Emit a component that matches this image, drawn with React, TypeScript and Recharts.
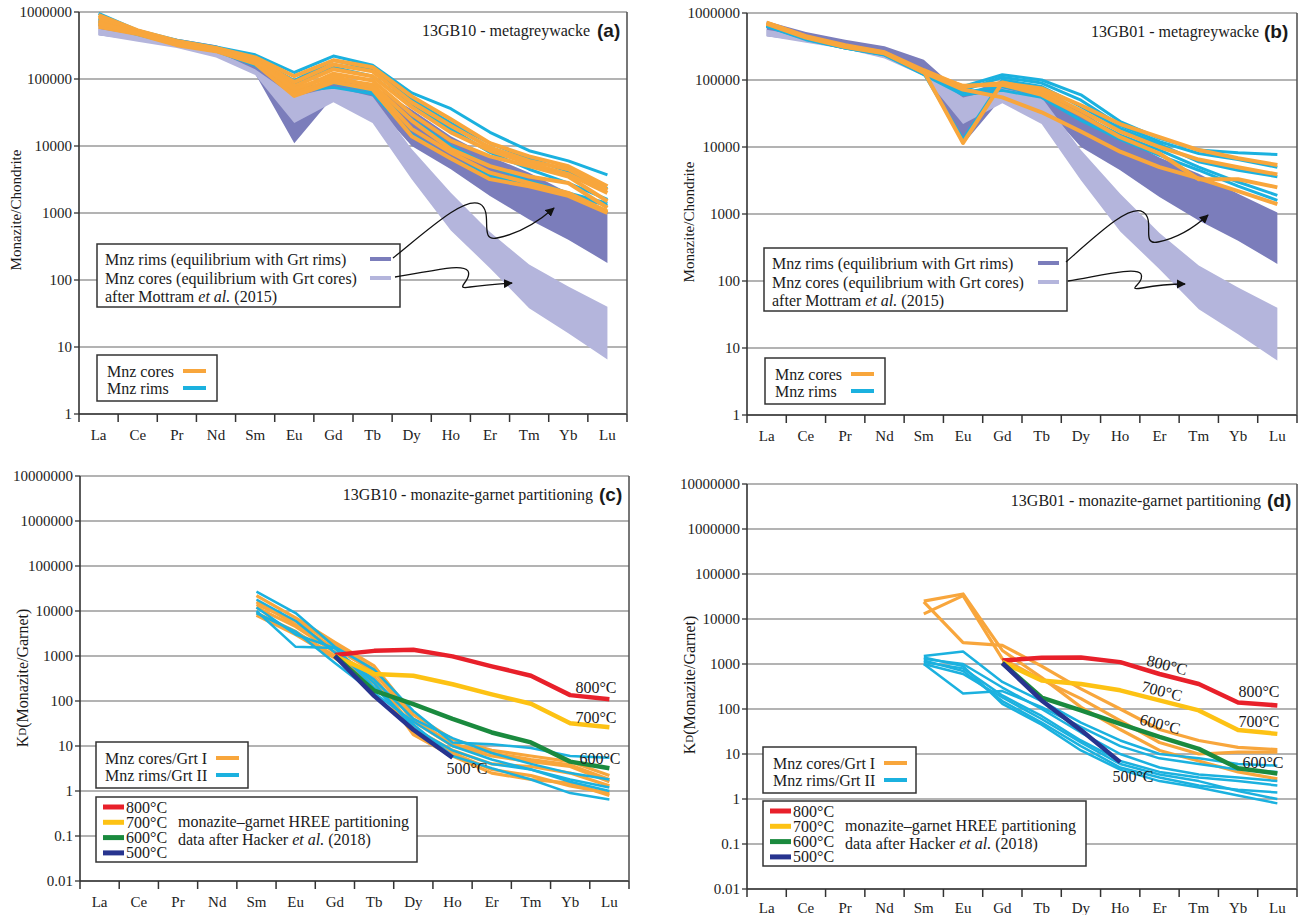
import React from 'react';
import { ComposedChart, Line, Area, XAxis, YAxis, CartesianGrid } from 'recharts';

const ELEMENTS = ['La', 'Ce', 'Pr', 'Nd', 'Sm', 'Eu', 'Gd', 'Tb', 'Dy', 'Ho', 'Er', 'Tm', 'Yb', 'Lu'];

const TICKS_AB = [1, 10, 100, 1000, 10000, 100000, 1000000];
const TICKS_CD = [0.01, 0.1, 1, 10, 100, 1000, 10000, 100000, 1000000, 10000000];

// Mottram et al. (2015) envelopes, La..Lu
const RIM_BAND_LOW = [450000, 380000, 300000, 220000, 120000, 11000, 55000, 45000, 10000, 4500, 1800, 800, 400, 180];
const RIM_BAND_HIGH = [750000, 520000, 400000, 320000, 200000, 60000, 100000, 80000, 35000, 14000, 7000, 4000, 2000, 1050];
const CORE_BAND_LOW = [450000, 360000, 290000, 210000, 115000, 22000, 45000, 22000, 3200, 550, 150, 38, 16, 6.5];
const CORE_BAND_HIGH = [560000, 450000, 340000, 260000, 140000, 55000, 75000, 55000, 9000, 2000, 520, 170, 80, 40];

// (a) 13GB10, monazite / chondrite, La..Lu
const A_CORES = [
  [900000, 530000, 370000, 290000, 210000, 110000, 190000, 150000, 55000, 25000, 11000, 7000, 5000, 2500],
  [850000, 520000, 360000, 285000, 200000, 90000, 165000, 130000, 45000, 20000, 9500, 6000, 4500, 2200],
  [760000, 500000, 350000, 275000, 190000, 78000, 140000, 110000, 38000, 16000, 8500, 5500, 3800, 2000],
  [700000, 490000, 340000, 270000, 180000, 66000, 120000, 95000, 30000, 12000, 7000, 5000, 3500, 1500],
  [650000, 480000, 330000, 265000, 175000, 60000, 100000, 82000, 24000, 9000, 5000, 3500, 2800, 1200],
  [600000, 470000, 320000, 260000, 170000, 56000, 90000, 70000, 14000, 6500, 3200, 2500, 1800, 1000],
  [680000, 480000, 330000, 265000, 185000, 72000, 110000, 76000, 18000, 8000, 4000, 2800, 2000, 1050],
];
const A_RIMS = [
  [950000, 530000, 380000, 300000, 230000, 125000, 220000, 160000, 62000, 36000, 16000, 8500, 6000, 3700],
  [800000, 500000, 360000, 290000, 200000, 95000, 190000, 140000, 50000, 22000, 11000, 6500, 4200, 2300],
  [720000, 480000, 340000, 270000, 180000, 82000, 150000, 110000, 40000, 18000, 8000, 4500, 2800, 1600],
  [650000, 460000, 330000, 260000, 160000, 65000, 75000, 60000, 15000, 6500, 3600, 2600, 1800, 1300],
  [750000, 490000, 350000, 280000, 190000, 70000, 88000, 66000, 25000, 10000, 5000, 3000, 2000, 1400],
];

// (b) 13GB01, monazite / chondrite, La..Lu
const B_CORES = [
  [720000, 450000, 330000, 260000, 140000, 80000, 90000, 75000, 42000, 22000, 14000, 9000, 6800, 5400],
  [700000, 440000, 320000, 255000, 135000, 11500, 92000, 68000, 35000, 17000, 10000, 6500, 5000, 3900],
  [690000, 430000, 310000, 250000, 130000, 82000, 85000, 60000, 30000, 14000, 8000, 3300, 3300, 2500],
  [710000, 440000, 320000, 255000, 130000, 72000, 55000, 33000, 17000, 8500, 5000, 3400, 2200, 1400],
];
const B_RIMS = [
  [650000, 420000, 310000, 250000, 130000, 80000, 120000, 100000, 60000, 24000, 13500, 9000, 8200, 7700],
  [650000, 420000, 310000, 245000, 130000, 70000, 110000, 90000, 50000, 21000, 12000, 8000, 6500, 5000],
  [640000, 410000, 300000, 240000, 125000, 13000, 100000, 80000, 40000, 19000, 11000, 6000, 4500, 3600],
  [640000, 410000, 300000, 240000, 125000, 65000, 80000, 60000, 30000, 15000, 9000, 5000, 3000, 1900],
  [630000, 400000, 300000, 235000, 120000, 60000, 70000, 55000, 25000, 13000, 7500, 4500, 2600, 1600],
];

// (c) 13GB10, monazite / garnet, Sm..Lu
const C_CORES = [
  [22000, 7000, 2000, 600, 50, 14, 8, 6, 4.5, 2.2],
  [16000, 5000, 1500, 450, 35, 10, 6, 4.5, 3.5, 1.6],
  [12000, 4500, 1200, 350, 25, 8, 4, 3.5, 2.5, 1.3],
  [9000, 3500, 1000, 280, 18, 6, 2.5, 1.8, 1.5, 0.8],
  [14000, 6000, 1800, 500, 40, 11, 7, 5, 3.8, 1.8],
  [8000, 3000, 900, 250, 20, 7, 3, 2.2, 1.3, 0.9],
];
const C_RIMS = [
  [27000, 9000, 1600, 500, 60, 12, 11, 9, 6, 5.5],
  [18000, 6000, 1200, 300, 40, 15, 7, 4, 2.5, 1.8],
  [12000, 3000, 1500, 250, 25, 8, 4, 3, 1.8, 1.2],
  [10000, 1600, 1500, 200, 30, 6, 3.2, 1.8, 0.9, 0.65],
  [9000, 3500, 700, 150, 35, 10, 5, 3, 1.6, 1.0],
];

// (d) 13GB01, monazite / garnet, Sm..Lu
const D_CORES = [
  [24000, 3000, 2600, 900, 280, 100, 35, 20, 14, 12.5],
  [13000, 33000, 1300, 450, 170, 55, 18, 10, 11, 11],
  [25000, 36000, 2000, 500, 110, 35, 12, 7, 4, 2.8],
];
const D_RIMS = [
  [1500, 1900, 400, 150, 50, 20, 10, 8, 6, 5.5],
  [1000, 220, 250, 110, 40, 15, 8, 6, 4.5, 4],
  [1300, 1000, 300, 100, 30, 10, 5, 3.5, 3, 2.5],
  [1100, 800, 200, 70, 20, 7, 4, 3, 2.5, 2],
  [1200, 700, 150, 50, 15, 5, 3, 2, 1.6, 1.4],
  [1400, 900, 130, 45, 12, 4.5, 2.5, 1.8, 1.2, 0.8],
  [1000, 600, 180, 60, 18, 6, 3.5, 2.5, 1.5, 1],
];

// Hacker et al. (2018) partitioning, Gd..Lu
const C_HACKER = {
  t800: [1050, 1300, 1380, 980, 590, 365, 135, 110],
  t700: [1000, 400, 365, 235, 140, 87, 32, 26],
  t600: [1000, 170, 85, 40, 20, 12, 4.5, 3.2],
  t500: [1000, 130, 23, 5.5],
};
const D_HACKER = {
  t800: [1200, 1370, 1400, 1100, 600, 360, 140, 120],
  t700: [1100, 430, 360, 260, 155, 93, 34, 28],
  t600: [1050, 180, 93, 47, 24, 13, 4.8, 3.7],
  t500: [1050, 155, 34, 6.6],
};

const ORANGE = '#f8a63c';
const CYAN = '#1bb1df';
const BAND_DARK = '#7b7dbb';
const BAND_LIGHT = '#b4b5dc';
const T_COLORS = { t800: '#e8202a', t700: '#fdc214', t600: '#1a8a3e', t500: '#27348f' };

const SERIF = '"Liberation Serif", "Times New Roman", serif';
const SANS = '"Liberation Sans", Arial, sans-serif';

function pad(arr: number[], start: number) {
  return ELEMENTS.map((_, i) => (i >= start && i - start < arr.length ? arr[i - start] : null));
}

function buildRows(cores: number[][], rims: number[][], start: number, hacker?: Record<string, number[]>, bands?: boolean) {
  const coreCols = cores.map((s) => pad(s, start));
  const rimCols = rims.map((s) => pad(s, start));
  const hackerCols = hacker ? Object.fromEntries(Object.entries(hacker).map(([k, v]) => [k, pad(v, 6)])) : {};
  return ELEMENTS.map((el, i) => {
    const row: Record<string, any> = { el };
    if (bands) {
      row.rimBand = [RIM_BAND_LOW[i], RIM_BAND_HIGH[i]];
      row.coreBand = [CORE_BAND_LOW[i], CORE_BAND_HIGH[i]];
    }
    coreCols.forEach((s, k) => (row['c' + k] = s[i]));
    rimCols.forEach((s, k) => (row['r' + k] = s[i]));
    Object.entries(hackerCols).forEach(([k, s]) => (row[k] = (s as any)[i]));
    return row;
  });
}

function ElementTick(props: any) {
  const { x, y, payload, band, labelDy } = props;
  const idx = ELEMENTS.indexOf(payload.value);
  return (
    <g>
      <line x1={x - band / 2} y1={y} x2={x - band / 2} y2={y + 8} stroke="#333" strokeWidth={1.5} />
      {idx === ELEMENTS.length - 1 && (
        <line x1={x + band / 2} y1={y} x2={x + band / 2} y2={y + 8} stroke="#333" strokeWidth={1.5} />
      )}
      <text x={x} y={y + labelDy} textAnchor="middle" dominantBaseline="central" fontFamily={SERIF} fontSize={15} fill="#222">
        {payload.value}
      </text>
    </g>
  );
}

interface PanelProps {
  left: number;
  top: number;
  width: number;
  height: number;
  marginTop: number;
  marginRight: number;
  yWidth: number;
  xHeight: number;
  labelDy: number;
  domain: [number, number];
  ticks: number[];
  rows: Record<string, any>[];
  nCores: number;
  nRims: number;
  bands?: boolean;
  partition?: boolean;
}

function Panel(p: PanelProps) {
  const band = (p.width - p.yWidth - p.marginRight - 1) / ELEMENTS.length;
  const coreW = p.partition ? 3.2 : 4;
  const rimW = p.partition ? 2.5 : 3;
  const cores = Array.from({ length: p.nCores }, (_, k) => (
    <Line key={'c' + k} dataKey={'c' + k} type="linear" stroke={ORANGE} strokeWidth={coreW} dot={false} activeDot={false} isAnimationActive={false} strokeLinejoin="round" />
  ));
  const rims = Array.from({ length: p.nRims }, (_, k) => (
    <Line key={'r' + k} dataKey={'r' + k} type="linear" stroke={CYAN} strokeWidth={rimW} dot={false} activeDot={false} isAnimationActive={false} strokeLinejoin="round" />
  ));
  return (
    <div style={{ position: 'absolute', left: p.left, top: p.top }}>
      <ComposedChart width={p.width} height={p.height} data={p.rows} margin={{ top: p.marginTop, right: p.marginRight, left: 0, bottom: 0 }}>
        <CartesianGrid horizontal vertical={false} stroke="#9a9a9a" strokeWidth={1.4} />
        <XAxis
          dataKey="el"
          scale="band"
          interval={0}
          height={p.xHeight}
          tickSize={0}
          tickMargin={0}
          tickLine={false}
          axisLine={{ stroke: '#333', strokeWidth: 1.6 }}
          tick={(t: any) => <ElementTick {...t} band={band} labelDy={p.labelDy} />}
        />
        <XAxis xAxisId="top" dataKey="el" scale="band" orientation="top" height={0} tick={false} tickLine={false} axisLine={{ stroke: '#555', strokeWidth: 1.6 }} />
        <YAxis
          scale="log"
          domain={p.domain}
          ticks={p.ticks}
          allowDataOverflow
          width={p.yWidth}
          tickSize={5}
          tickMargin={2}
          tickLine={{ stroke: '#333', strokeWidth: 1.3 }}
          axisLine={{ stroke: '#333', strokeWidth: 1.6 }}
          tick={{ fontFamily: SERIF, fontSize: 15, fill: '#222' }}
          tickFormatter={(v: number) => String(v)}
        />
        <YAxis yAxisId="right" orientation="right" scale="log" domain={p.domain} allowDataOverflow width={1} tick={false} tickLine={false} axisLine={{ stroke: '#555', strokeWidth: 1.6 }} />
        {p.bands && (
          <Area dataKey="rimBand" type="linear" stroke="none" fill={BAND_DARK} fillOpacity={1} isAnimationActive={false} activeDot={false} />
        )}
        {p.bands && (
          <Area dataKey="coreBand" type="linear" stroke="none" fill={BAND_LIGHT} fillOpacity={1} isAnimationActive={false} activeDot={false} />
        )}
        {p.partition ? cores : rims}
        {p.partition ? rims : cores}
        {p.partition &&
          (['t800', 't700', 't600', 't500'] as const).map((k) => (
            <Line key={k} dataKey={k} type="linear" stroke={T_COLORS[k]} strokeWidth={4.5} dot={false} activeDot={false} isAnimationActive={false} strokeLinejoin="round" />
          ))}
      </ComposedChart>
    </div>
  );
}

function Swatch({ x1, x2, y, color, w = 4 }: { x1: number; x2: number; y: number; color: string; w?: number }) {
  return <line x1={x1} x2={x2} y1={y} y2={y} stroke={color} strokeWidth={w} />;
}

function Txt({ x, y, children, anchor = 'start', size = 16, rotate, family = SERIF, weight }: any) {
  return (
    <text
      x={x}
      y={y}
      textAnchor={anchor}
      dominantBaseline="central"
      fontFamily={family}
      fontSize={size}
      fontWeight={weight}
      fill="#1a1a1a"
      transform={rotate ? `rotate(${rotate} ${x} ${y})` : undefined}
    >
      {children}
    </text>
  );
}

function Arrow({ d }: { d: string }) {
  return <path d={d} fill="none" stroke="#111" strokeWidth={1.3} markerEnd="url(#arrowHead)" />;
}

function MottramLegend({ x, y, w, tx, sx }: { x: number; y: number; w: number; tx: number; sx: number }) {
  return (
    <g>
      <rect x={x} y={y} width={w} height={63} fill="#fff" stroke="#333" strokeWidth={1.5} />
      <Txt x={tx} y={y + 15}>Mnz rims (equilibrium with Grt rims)</Txt>
      <Swatch x1={sx} x2={sx + 21} y={y + 15} color={BAND_DARK} />
      <Txt x={tx} y={y + 34}>Mnz cores (equilibrium with Grt cores)</Txt>
      <Swatch x1={sx} x2={sx + 21} y={y + 34} color={BAND_LIGHT} />
      <Txt x={tx} y={y + 52}>
        after Mottram <tspan fontStyle="italic">et al.</tspan> (2015)
      </Txt>
    </g>
  );
}

function SeriesLegend({ x, y, w, tx, sx, a, b }: any) {
  return (
    <g>
      <rect x={x} y={y} width={w} height={46} fill="#fff" stroke="#333" strokeWidth={1.5} />
      <Txt x={tx} y={y + 16}>{a}</Txt>
      <Swatch x1={sx} x2={sx + 23} y={y + 16} color={ORANGE} />
      <Txt x={tx} y={y + 33}>{b}</Txt>
      <Swatch x1={sx} x2={sx + 23} y={y + 33} color={CYAN} />
    </g>
  );
}

function HackerLegend({ x, y, w, sx, tx }: any) {
  const rows = [
    ['800°C', T_COLORS.t800],
    ['700°C', T_COLORS.t700],
    ['600°C', T_COLORS.t600],
    ['500°C', T_COLORS.t500],
  ];
  return (
    <g>
      <rect x={x} y={y} width={w} height={65} fill="#fff" stroke="#333" strokeWidth={1.5} />
      {rows.map(([label, color], i) => (
        <g key={label}>
          <Swatch x1={sx} x2={sx + 21} y={y + 10 + i * 15.3} color={color} w={5} />
          <Txt x={sx + 23} y={y + 10 + i * 15.3}>{label}</Txt>
        </g>
      ))}
      <Txt x={tx} y={y + 24}>monazite–garnet HREE partitioning</Txt>
      <Txt x={tx} y={y + 42}>
        data after Hacker <tspan fontStyle="italic">et al.</tspan> (2018)
      </Txt>
    </g>
  );
}

function KdLabel({ x, y }: { x: number; y: number }) {
  return (
    <text x={x} y={y} textAnchor="middle" dominantBaseline="central" fontFamily={SERIF} fontSize={16} fill="#1a1a1a" transform={`rotate(-90 ${x} ${y})`}>
      K<tspan fontSize={11}>D</tspan>(Monazite/Garnet)
    </text>
  );
}

export default function App() {
  const rowsA = buildRows(A_CORES, A_RIMS, 0, undefined, true);
  const rowsB = buildRows(B_CORES, B_RIMS, 0, undefined, true);
  const rowsC = buildRows(C_CORES, C_RIMS, 4, C_HACKER);
  const rowsD = buildRows(D_CORES, D_RIMS, 4, D_HACKER);

  return (
    <div style={{ position: 'absolute', left: 0, top: 0, width: 1301, height: 915, background: '#fff', overflow: 'hidden' }}>
      <Panel left={0} top={0} width={650} height={450} marginTop={12} marginRight={22} yWidth={79} xHeight={36} labelDy={21}
        domain={[1, 1000000]} ticks={TICKS_AB} rows={rowsA} nCores={A_CORES.length} nRims={A_RIMS.length} bands />
      <Panel left={668} top={0} width={633} height={451} marginTop={13} marginRight={3} yWidth={79} xHeight={36} labelDy={21}
        domain={[1, 1000000]} ticks={TICKS_AB} rows={rowsB} nCores={B_CORES.length} nRims={B_RIMS.length} bands />
      <Panel left={0} top={460} width={650} height={455} marginTop={16} marginRight={20} yWidth={80} xHeight={34} labelDy={21}
        domain={[0.01, 10000000]} ticks={TICKS_CD} rows={rowsC} nCores={C_CORES.length} nRims={C_RIMS.length} partition />
      <Panel left={668} top={460} width={633} height={455} marginTop={24} marginRight={3} yWidth={79} xHeight={26} labelDy={19}
        domain={[0.01, 10000000]} ticks={TICKS_CD} rows={rowsD} nCores={D_CORES.length} nRims={D_RIMS.length} partition />

      <svg width={1301} height={915} style={{ position: 'absolute', left: 0, top: 0, pointerEvents: 'none' }}>
        <defs>
          <marker id="arrowHead" viewBox="0 0 10 10" refX="9" refY="5" markerWidth="7" markerHeight="7" orient="auto-start-reverse">
            <path d="M0,0 L10,5 L0,10 z" fill="#111" />
          </marker>
        </defs>

        {/* axis titles */}
        <Txt x={16} y={210} anchor="middle" size={15} rotate={-90}>Monazite/Chondrite</Txt>
        <Txt x={689} y={222} anchor="middle" size={15} rotate={-90}>Monazite/Chondrite</Txt>
        <KdLabel x={22} y={678} />
        <KdLabel x={689} y={685} />

        {/* panel titles */}
        <Txt x={590} y={30} anchor="end">13GB10 - metagreywacke</Txt>
        <Txt x={597} y={30} family={SANS} weight="bold" size={19}>(a)</Txt>
        <Txt x={1259} y={31} anchor="end">13GB01 - metagreywacke</Txt>
        <Txt x={1264} y={31} family={SANS} weight="bold" size={19}>(b)</Txt>
        <Txt x={593} y={494} anchor="end">13GB10 - monazite-garnet partitioning</Txt>
        <Txt x={599} y={494} family={SANS} weight="bold" size={19}>(c)</Txt>
        <Txt x={1261} y={500} anchor="end">13GB01 - monazite-garnet partitioning</Txt>
        <Txt x={1267} y={500} family={SANS} weight="bold" size={19}>(d)</Txt>

        {/* legends */}
        <MottramLegend x={97} y={244} w={303} tx={105} sx={370} />
        <SeriesLegend x={97} y={355} w={120} tx={107} sx={183} a="Mnz cores" b="Mnz rims" />
        <MottramLegend x={764} y={248} w={303} tx={772} sx={1038} />
        <SeriesLegend x={765} y={358} w={120} tx={775} sx={851} a="Mnz cores" b="Mnz rims" />
        <SeriesLegend x={96} y={742} w={152} tx={105} sx={216} a="Mnz cores/Grt I" b="Mnz rims/Grt II" />
        <HackerLegend x={96} y={797} w={321} sx={103} tx={178} />
        <SeriesLegend x={763} y={747} w={153} tx={773} sx={884} a="Mnz cores/Grt I" b="Mnz rims/Grt II" />
        <HackerLegend x={763} y={801} w={323} sx={770} tx={845} />

        {/* arrows */}
        <Arrow d="M393 258 C430 228 465 196 480 204 C494 212 478 242 497 238 C518 234 538 222 554 208" />
        <Arrow d="M395 277 C425 273 462 262 468 271 C473 280 452 290 470 287 C484 285 498 284 512 283" />
        <Arrow d="M1066 262 C1100 232 1130 204 1143 212 C1156 220 1140 246 1158 242 C1178 238 1196 226 1208 215" />
        <Arrow d="M1068 281 C1095 277 1136 266 1141 274 C1146 283 1124 291 1142 288 C1158 285 1172 284 1185 284" />

        {/* temperature labels */}
        <Txt x={596} y={687} anchor="middle">800°C</Txt>
        <Txt x={596} y={717} anchor="middle">700°C</Txt>
        <Txt x={600} y={758} anchor="middle">600°C</Txt>
        <Txt x={467} y={768} anchor="middle">500°C</Txt>
        <Txt x={1167} y={665} anchor="middle" rotate={14}>800°C</Txt>
        <Txt x={1162} y={691} anchor="middle" rotate={14}>700°C</Txt>
        <Txt x={1160} y={724} anchor="middle" rotate={14}>600°C</Txt>
        <Txt x={1133} y={776} anchor="middle">500°C</Txt>
        <Txt x={1259} y={691} anchor="middle">800°C</Txt>
        <Txt x={1259} y={721} anchor="middle">700°C</Txt>
        <Txt x={1263} y={762} anchor="middle">600°C</Txt>
      </svg>
    </div>
  );
}
